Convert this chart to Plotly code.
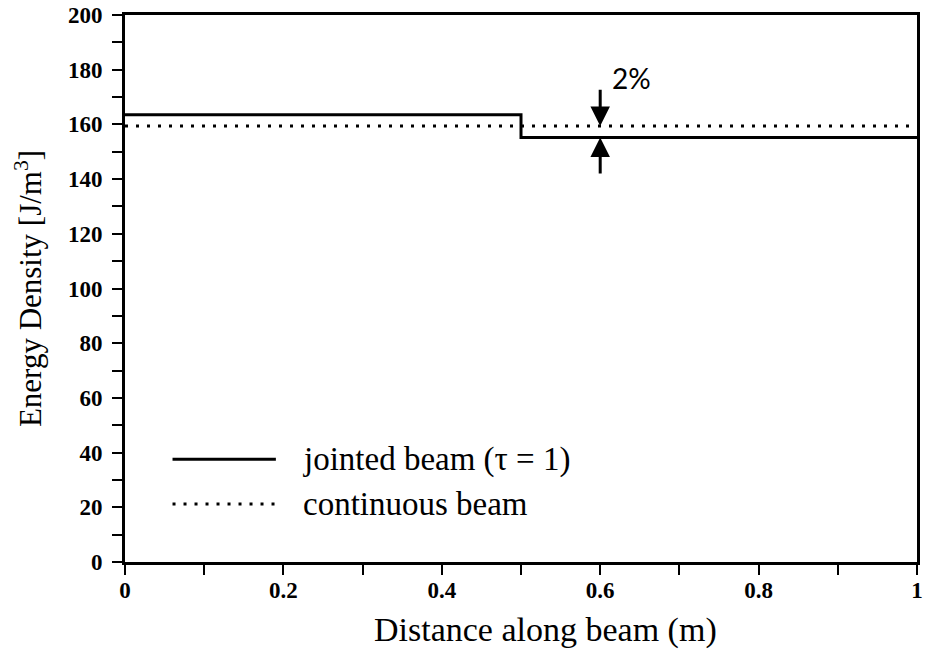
import plotly.graph_objects as go

# Energy density along the beam
x_jointed = [0.0, 0.5, 1.0]
y_jointed = [163.5, 155.2, 155.2]
x_continuous = [0.0, 1.0]
y_continuous = [159.4, 159.4]

# Arrows marking the 2 % gap at x = 0.6
gap_x = 0.6
gap_top_tail = 173.2
gap_bottom_tail = 141.5
gap_label = "2%"

series_names = ["jointed beam (τ = 1)", "continuous beam"]

x_ticks = [0, 0.2, 0.4, 0.6, 0.8, 1]
x_tick_text = ["0", "0.2", "0.4", "0.6", "0.8", "1"]
y_ticks = list(range(0, 201, 20))

x_title = "Distance along beam (m)"
y_title = "Energy Density [J/m<sup>3</sup>]"

serif = "Liberation Serif, Times New Roman, serif"
solid_line = dict(color="black", width=3)
dotted_line = dict(color="black", width=3, dash="3px,8px")

fig = go.Figure()
fig.add_trace(go.Scatter(
    x=x_jointed, y=y_jointed, mode="lines", line_shape="hv",
    line=solid_line, name=series_names[0], showlegend=False,
))
fig.add_trace(go.Scatter(
    x=x_continuous, y=y_continuous, mode="lines",
    line=dotted_line, name=series_names[1], showlegend=False,
))

# double arrow: upper one points down to the continuous line, lower one up to the jointed line
for head_y, tail_y in [(y_continuous[0], gap_top_tail), (y_jointed[-1], gap_bottom_tail)]:
    fig.add_annotation(x=gap_x, y=head_y, ax=gap_x, ay=tail_y,
                       xref="x", yref="y", axref="x", ayref="y", text="",
                       showarrow=True, arrowhead=2, arrowsize=1.3, arrowwidth=3,
                       arrowcolor="black")
fig.add_annotation(x=0.64, y=177, xref="x", yref="y", text=gap_label,
                   showarrow=False,
                   font=dict(family="Lato, sans-serif", size=28, color="black"))

# key in the lower-left corner of the plot area
key_rows = [(0.188, solid_line), (0.106, dotted_line)]
for (ky, style), label in zip(key_rows, series_names):
    fig.add_shape(type="line", xref="paper", yref="paper",
                  x0=0.060, x1=0.1905, y0=ky, y1=ky, line=style)
    fig.add_annotation(x=0.2218, y=ky, xref="paper", yref="paper",
                       xanchor="left", yanchor="middle", text=label,
                       showarrow=False,
                       font=dict(family=serif, size=33, color="black"))

# x-axis title, sitting slightly right of the axis centre
fig.add_annotation(x=0.531, y=-0.124, xref="paper", yref="paper",
                   xanchor="center", yanchor="middle", text=x_title,
                   showarrow=False,
                   font=dict(family=serif, size=34, color="black"))

axis_common = dict(
    showline=True, linewidth=3, linecolor="black", mirror=True,
    ticks="outside", ticklen=10, tickwidth=2, tickcolor="black",
    showgrid=False, zeroline=False,
    tickfont=dict(family=serif, size=23, color="black", weight="bold"),
)

fig.update_xaxes(
    range=[0, 1], tickvals=x_ticks, ticktext=x_tick_text,
    minor=dict(dtick=0.1, ticklen=10, tickwidth=2, tickcolor="black", ticks="outside"),
    ticklabelstandoff=-5,
    **axis_common,
)
fig.update_yaxes(
    range=[0, 200], tickvals=y_ticks,
    minor=dict(dtick=10, ticklen=10, tickwidth=2, tickcolor="black", ticks="outside"),
    title=dict(text=y_title,
               font=dict(family=serif, size=31, color="black"), standoff=18),
    ticklabelstandoff=5,
    **axis_common,
)

fig.update_layout(
    width=926, height=652,
    margin=dict(l=125, r=3, t=15, b=90),
    plot_bgcolor="white", paper_bgcolor="white",
    showlegend=False,
)

fig.write_html("out.html")
